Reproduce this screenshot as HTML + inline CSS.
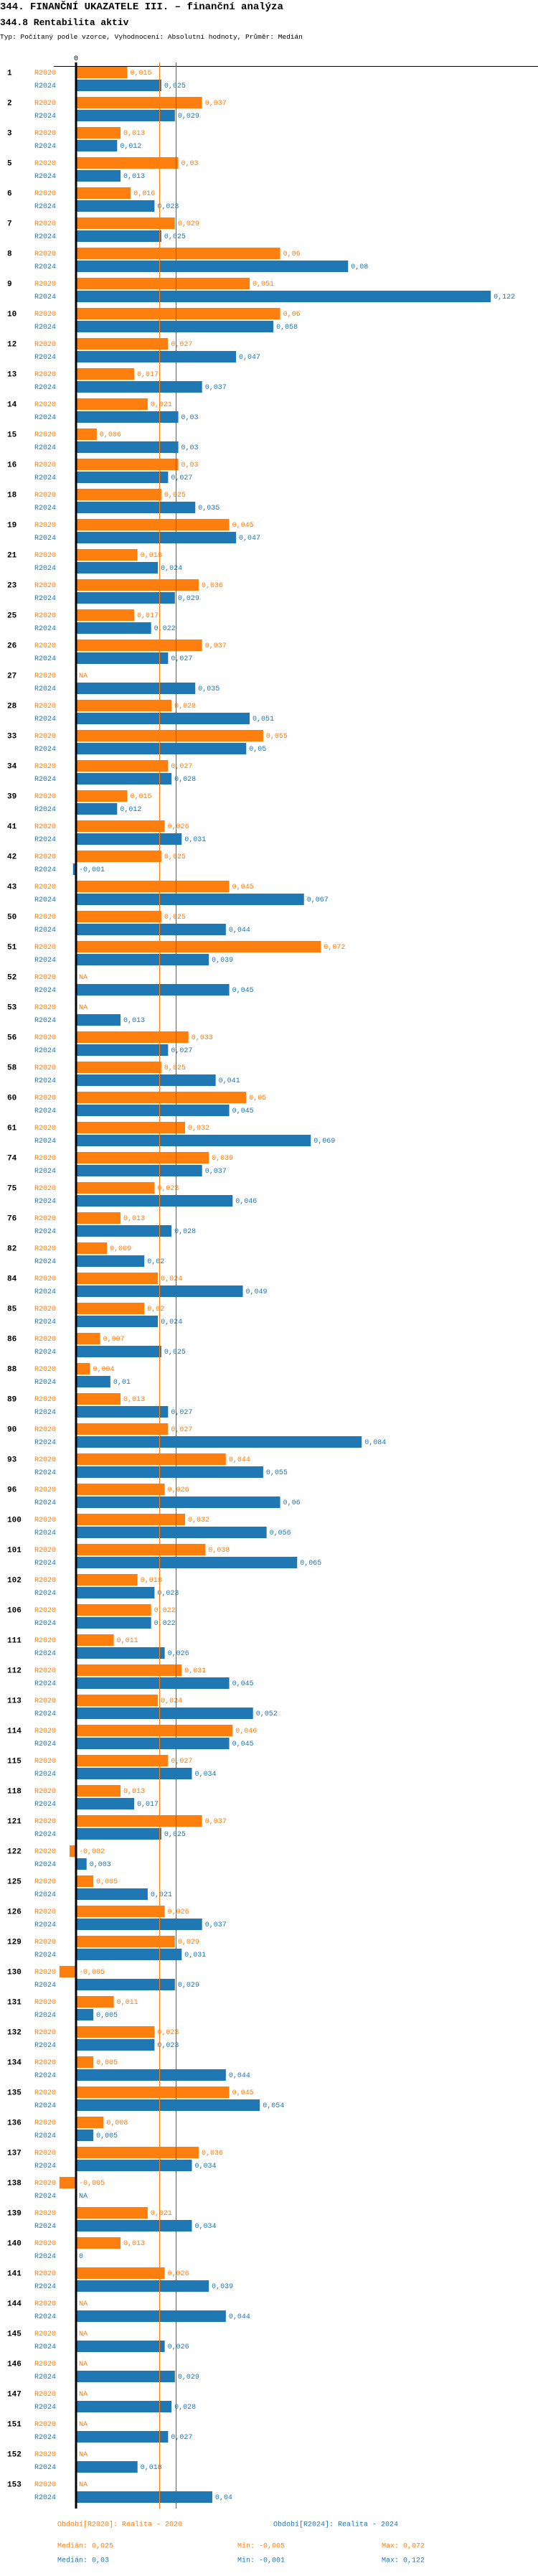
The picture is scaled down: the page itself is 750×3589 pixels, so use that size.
<!DOCTYPE html>
<html><head><meta charset="utf-8"><style>
body{margin:0;background:#fff;width:750px;height:3584px;overflow:hidden;font-family:"Liberation Mono","DejaVu Sans Mono",monospace}
svg text{font-family:"Liberation Mono","DejaVu Sans Mono",monospace}
</style></head><body>
<svg id="c" width="750" height="3584" xmlns="http://www.w3.org/2000/svg">
<text x="0" y="13" font-size="14" font-weight="bold">344. FINANČNÍ UKAZATELE III. – finanční analýza</text>
<text x="0" y="35" font-size="13" font-weight="bold">344.8 Rentabilita aktiv</text>
<text x="0" y="54" font-size="9.5">Typ: Počítaný podle vzorce, Vyhodnocení: Absolutní hodnoty, Průměr: Medián</text>
<text x="106" y="84" font-size="10" text-anchor="middle">0</text>
<line x1="75" y1="92.5" x2="750" y2="92.5" stroke="#000" stroke-width="1"/>
<g id="marks"></g>
<line x1="222.5" y1="87" x2="222.5" y2="3495" stroke="#ff7f0e" stroke-width="1"/>
<line x1="245.5" y1="87" x2="245.5" y2="3495" stroke="#1f77b4" stroke-width="1"/>
<line x1="106" y1="87" x2="106" y2="3495" stroke="#000" stroke-width="3"/>
<text x="80" y="3519.5" font-size="10" fill="#ff7f0e">Období[R2020]: Realita - 2020</text>
<text x="381" y="3519.5" font-size="10" fill="#1f77b4">Období[R2024]: Realita - 2024</text>
<text x="80" y="3549.5" font-size="10" fill="#ff7f0e">Medián: 0,025</text>
<text x="331" y="3549.5" font-size="10" fill="#ff7f0e">Min: -0,005</text>
<text x="532" y="3549.5" font-size="10" fill="#ff7f0e">Max: 0,072</text>
<text x="80" y="3569.5" font-size="10" fill="#1f77b4">Medián: 0,03</text>
<text x="331" y="3569.5" font-size="10" fill="#1f77b4">Min: -0,001</text>
<text x="532" y="3569.5" font-size="10" fill="#1f77b4">Max: 0,122</text>
</svg>
<script>
const categories = ["1","2","3","5","6","7","8","9","10","12","13","14","15","16","18","19","21","23","25","26","27","28","33","34","39","41","42","43","50","51","52","53","56","58","60","61","74","75","76","82","84","85","86","88","89","90","93","96","100","101","102","106","111","112","113","114","115","118","121","122","125","126","129","130","131","132","134","135","136","137","138","139","140","141","144","145","146","147","151","152","153"];
const values2020 = [0.015,0.037,0.013,0.03,0.016,0.029,0.06,0.051,0.06,0.027,0.017,0.021,0.006,0.03,0.025,0.045,0.018,0.036,0.017,0.037,null,0.028,0.055,0.027,0.015,0.026,0.025,0.045,0.025,0.072,null,null,0.033,0.025,0.05,0.032,0.039,0.023,0.013,0.009,0.024,0.02,0.007,0.004,0.013,0.027,0.044,0.026,0.032,0.038,0.018,0.022,0.011,0.031,0.024,0.046,0.027,0.013,0.037,-0.002,0.005,0.026,0.029,-0.005,0.011,0.023,0.005,0.045,0.008,0.036,-0.005,0.021,0.013,0.026,null,null,null,null,null,null,null];
const values2024 = [0.025,0.029,0.012,0.013,0.023,0.025,0.08,0.122,0.058,0.047,0.037,0.03,0.03,0.027,0.035,0.047,0.024,0.029,0.022,0.027,0.035,0.051,0.05,0.028,0.012,0.031,-0.001,0.067,0.044,0.039,0.045,0.013,0.027,0.041,0.045,0.069,0.037,0.046,0.028,0.02,0.049,0.024,0.025,0.01,0.027,0.084,0.055,0.06,0.056,0.065,0.023,0.022,0.026,0.045,0.052,0.045,0.034,0.017,0.025,0.003,0.021,0.037,0.031,0.029,0.005,0.023,0.044,0.054,0.005,0.034,null,0.034,-0.0004,0.039,0.044,0.026,0.029,0.028,0.027,0.018,0.04];
const seriesLabels = ["R2020","R2024"];

const X0 = 106.5, SCALE = 4735, Y0 = 100.5, STEP = 42;
const xs = v => X0 + v * SCALE;
const ys = (i, s) => Y0 + i * STEP + s * 18;
const colors = ["#ff7f0e", "#1f77b4"];
const NS = "http://www.w3.org/2000/svg";
const g = document.getElementById("marks");
function fmt(v){ let r = Math.round(v*1000)/1000; if (Object.is(r,-0) || r===0) return "0"; return String(r).replace(".", ","); }
function mk(tag, attrs){ const e = document.createElementNS(NS, tag); for (const k in attrs) e.setAttribute(k, attrs[k]); g.appendChild(e); return e; }
categories.forEach((cat, i) => {
  const gl = mk("text", {x: 10, y: ys(i,0)+4, "font-size": 11, "font-weight": "bold"});
  gl.textContent = cat;
  
  
  [values2020, values2024].forEach((arr, s) => {
    const v = arr[i], cy = ys(i, s), col = colors[s];
    const sl = mk("text", {x: 48, y: cy+3.5, "font-size": 10, fill: col});
    sl.textContent = seriesLabels[s];
    
    
    let lx = 110;
    if (v !== null) {
      const xe = xs(v);
      let x1 = Math.min(X0, xe), w = Math.abs(xe - X0);
      if (v < 0) { x1 = Math.min(xe, X0 - 2); w = Math.max(X0 - x1, 2); }
      const r = mk("rect", {x: v < 0 ? x1 : 107, y: cy - 7.5, width: v < 0 ? w : Math.max(w - 0.5, 0), height: 16, fill: col});
      
      
      lx = v > 0 ? xe + 4 : 110;
    }
    const vl = mk("text", {x: lx, y: cy+3.5, "font-size": 10, fill: col});
    vl.textContent = v === null ? "NA" : fmt(v);
    
    
  });
});
</script>
</body></html>
